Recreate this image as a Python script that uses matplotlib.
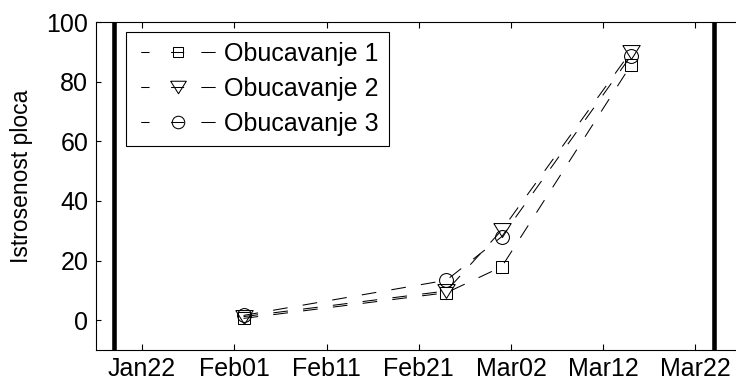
import numpy as np
import matplotlib
matplotlib.use('Agg')
import matplotlib.pyplot as plt
import matplotlib.dates as mdates
from matplotlib.lines import Line2D

# Wear of the plates for three trainings, measured on four dates
dates = np.array(['2020-02-02', '2020-02-24', '2020-03-01', '2020-03-15'], dtype='datetime64[D]')
obucavanje_1 = [0.6, 9.2, 17.9, 85.5]
obucavanje_2 = [1.2, 9.8, 30.2, 90.0]
obucavanje_3 = [1.6, 13.4, 28.0, 88.6]
labels = ['Obucavanje 1', 'Obucavanje 2', 'Obucavanje 3']

# Boundary dates (thick vertical lines) and axis range
bounds = np.array(['2020-01-19', '2020-03-24'], dtype='datetime64[D]')
x_range = np.array(['2020-01-17', '2020-03-27'], dtype='datetime64[D]')
tick_dates = np.arange(np.datetime64('2020-01-22'), np.datetime64('2020-03-23'), 10)
y_ticks = [0, 20, 40, 60, 80, 100]

plt.rcParams['font.family'] = ['Liberation Sans', 'DejaVu Sans']
plt.rcParams['lines.scale_dashes'] = False

# triangle pointing down, a bit wider than tall
tri_down = [(-1, 0.8), (1, 0.8), (0, -0.8), (-1, 0.8)]
markers = ['s', tri_down, 'o']
msizes = [8.2, 12.5, 10]
dash = (0, (10.6, 11.0))

fig = plt.figure(figsize=(7.36, 3.82), dpi=100)
ax = fig.add_axes([96 / 736, 1 - 350 / 382, 645.5 / 736, 328 / 382])

for ys, m, ms in zip([obucavanje_1, obucavanje_2, obucavanje_3], markers, msizes):
    ax.plot(dates, ys, color='k', lw=0.75, linestyle=dash, marker=m, ms=ms,
            mfc='none', mec='k', mew=0.75)

for b in bounds:
    ax.axvline(b, color='k', lw=3.3)

ax.set_xlim(x_range[0], x_range[1])
ax.set_ylim(-10, 100)
ax.set_xticks(tick_dates)
ax.xaxis.set_major_formatter(mdates.DateFormatter('%b%d'))
ax.set_yticks(y_ticks)
ax.tick_params(axis='both', direction='in', top=True, right=True, labelsize=18, width=0.8)
ax.tick_params(axis='x', length=4.5, pad=5)
ax.tick_params(axis='y', length=3.6, pad=5.5)
for s in ax.spines.values():
    s.set_linewidth(0.8)

ax.set_ylabel('Istrosenost ploca', fontsize=16.5)
ax.yaxis.set_label_coords(-0.0976, 0.53)

# legend handles: dash, marker, dash
leg_dash = (63.6, (6.0, 15.5, 9.4, 12.4, 10.3, 13.4))
handles = [Line2D([], [], color='k', lw=0.75, linestyle=leg_dash, marker=m, ms=ms * 0.9,
                  mfc='none', mec='k', mew=0.75)
           for m, ms in zip(markers, msizes)]
leg = ax.legend(handles, labels, loc='upper left', bbox_to_anchor=(0.0465, 0.9704),
                borderaxespad=0, fontsize=18, handlelength=3.37, handletextpad=0.15,
                borderpad=0.4, labelspacing=0.45, fancybox=False, framealpha=1,
                edgecolor='k')
leg.get_frame().set_linewidth(0.8)

fig.savefig('out.png', dpi=100)
